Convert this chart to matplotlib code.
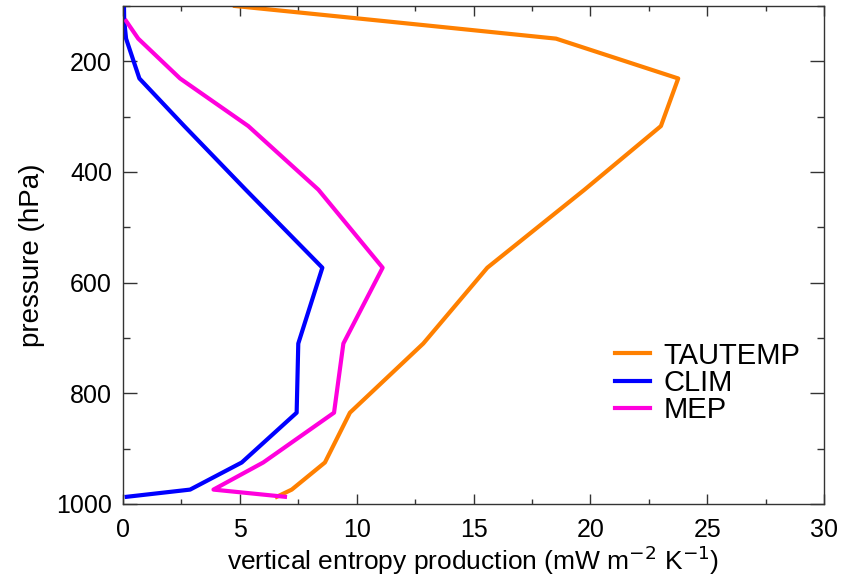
import numpy as np
import matplotlib
matplotlib.use("Agg")
import matplotlib.pyplot as plt
from matplotlib.ticker import MultipleLocator

plt.rcParams['font.family'] = ['Liberation Sans', 'DejaVu Sans']

# pressure levels (hPa)
pressure = [100, 127, 159, 231, 317, 432, 573, 710, 835, 925, 974, 987]

# vertical entropy production (mW m-2 K-1)
tautemp = [4.79, 11.1, 18.53, 23.76, 23.02, 19.75, 15.59, 12.85, 9.71, 8.64, 7.22, 6.58]
clim = [0.04, 0.05, 0.13, 0.70, 2.62, 5.25, 8.53, 7.50, 7.43, 5.08, 2.87, 0.16]
mep = [np.nan, 0.13, 0.65, 2.44, 5.36, 8.36, 11.11, 9.43, 9.03, 6.00, 3.87, 6.93]

fig = plt.figure(figsize=(8.41, 5.75), dpi=100)
ax = fig.add_axes([0.1463, 0.1235, 0.8335, 0.8661])

ax.plot(tautemp, pressure, color='#ff8000', lw=3, label='TAUTEMP')
ax.plot(clim, pressure, color='#0000ff', lw=3, label='CLIM')
ax.plot(mep, pressure, color='#ff00dd', lw=3, label='MEP')

ax.set_xlim(0, 30)
ax.set_ylim(1000, 100)
ax.xaxis.set_major_locator(MultipleLocator(5))
ax.xaxis.set_minor_locator(MultipleLocator(2.5))
ax.yaxis.set_major_locator(MultipleLocator(200))
ax.yaxis.set_minor_locator(MultipleLocator(100))

ax.tick_params(axis='both', which='both', direction='in', top=True, right=True,
               labelsize=18, width=1, color='#333333')
ax.tick_params(axis='x', which='major', length=7.5, pad=10)
ax.tick_params(axis='x', which='minor', length=3.5)
ax.tick_params(axis='y', which='major', length=10, pad=8)
ax.tick_params(axis='y', which='minor', length=5)
for s in ax.spines.values():
    s.set_linewidth(1)
    s.set_color('#333333')

ax.set_xlabel('vertical entropy production (mW m$^{-2}$ K$^{-1}$)', fontsize=19, labelpad=1)
ax.set_ylabel('pressure (hPa)', fontsize=20, labelpad=8)

leg = ax.legend(loc='center left', bbox_to_anchor=(0.702, 0.243), frameon=False,
                fontsize=21, handlelength=1.2, handletextpad=0.45,
                labelspacing=-0.02, borderpad=0, borderaxespad=0)
for line in leg.get_lines():
    line.set_linewidth(3)

fig.savefig('out.png', dpi=100)
